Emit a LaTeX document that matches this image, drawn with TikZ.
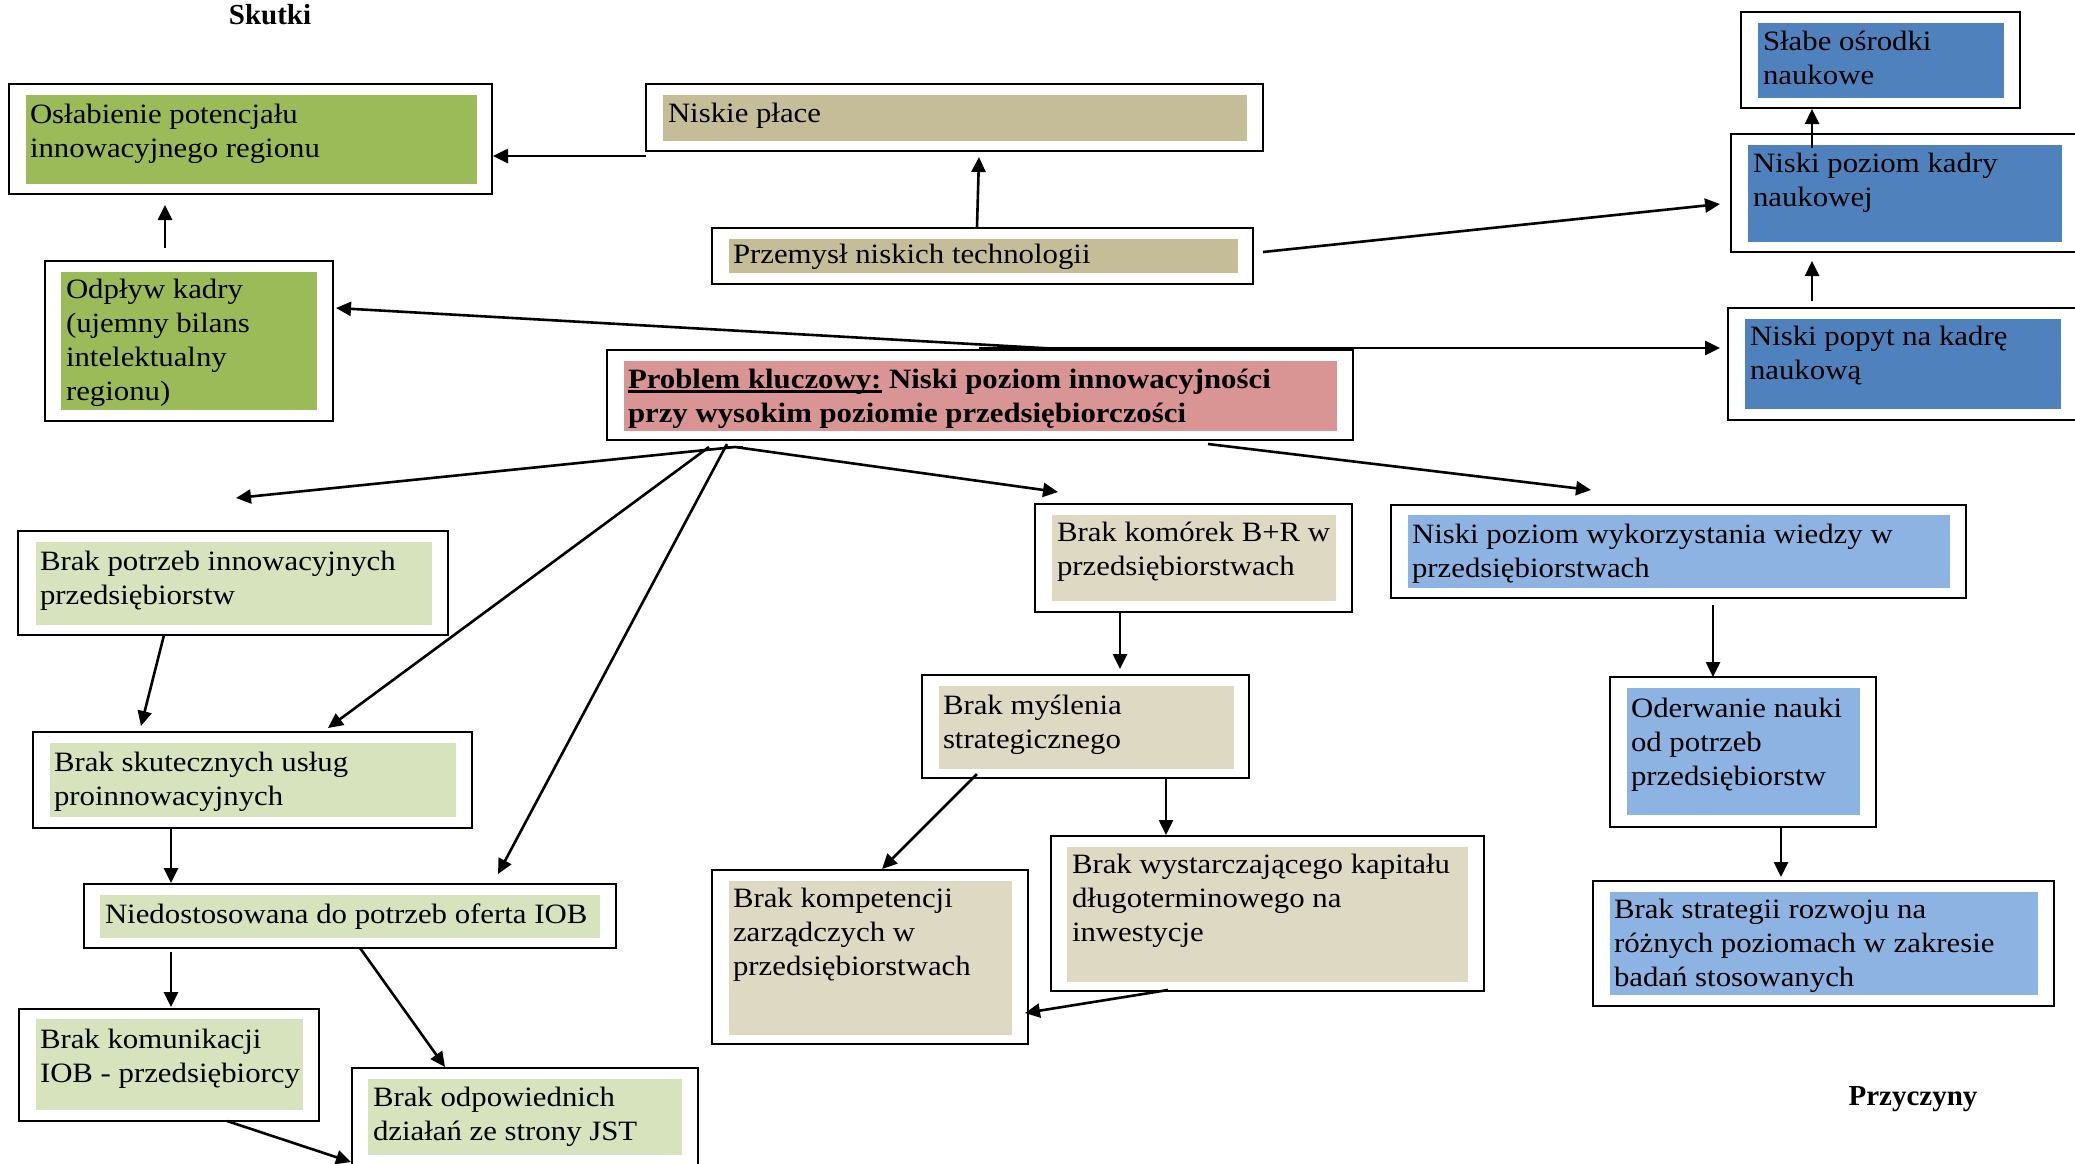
\documentclass[tikz,border=0pt]{standalone}
\usepackage{fontspec}
\setmainfont{Liberation Serif}[FakeStretch=1.1]
\newfontfamily\ttlfont{Liberation Serif}
\usetikzlibrary{arrows.meta,calc,fit}
\definecolor{cgreen}{HTML}{9BBB59}
\definecolor{ctan}{HTML}{C4BD97}
\definecolor{cblue}{HTML}{4F81BD}
\definecolor{cpink}{HTML}{D99594}
\definecolor{clgreen}{HTML}{D6E3BC}
\definecolor{cltan}{HTML}{DDD9C3}
\definecolor{clblue}{HTML}{8DB3E2}
\newcommand{\thickul}[1]{\setbox0\hbox{#1}\rlap{\rule[-4.5bp]{\wd0}{2.4bp}}\box0\relax}
\newcommand{\mybody}{\fontsize{28bp}{34bp}\selectfont}
\newcommand{\mytitle}{\ttlfont\bfseries\fontsize{29bp}{34bp}\selectfont}
\tikzset{
  obox/.style={draw=black, line width=2.2bp, inner sep=0pt, outer sep=0pt, rectangle},
  ibox/.style={inner sep=0pt, outer sep=0pt, rectangle},
  txt/.style={anchor=north west, inner sep=0pt, outer sep=0pt, align=left, font=\mybody},
  ttl/.style={anchor=base, inner sep=0pt, font=\mytitle},
  arr/.style={-{Triangle[length=15bp,width=14bp]}, line width=2.6bp},
  lin/.style={line width=2.6bp}
}
\newcommand{\mkbox}[6]{%
  \node[obox, fit={#2}] (#1) {};
  \node[ibox, fill=#4, fit={#3}] (#1-in) {};
  \node[txt] (#1-t) at ($#5+(0,-23.8)$) {\strut #6};
}
\begin{document}
\begin{tikzpicture}[x=1bp, y=-1bp]
\useasboundingbox (0,0) rectangle (2075,1163);
\clip (0,0) rectangle (2075,1163);
\fill[white] (0,0) rectangle (2075,1163);

% titles
\node[ttl] (skutki) at (270,24) {Skutki};
\node[ttl] (przyczyny) at (1913,1105) {Przyczyny};

% boxes
\mkbox{osl}{(9,84) (492,194)}{(26,95) (477,184)}{cgreen}{(30,123)}{Osłabienie potencjału\\innowacyjnego regionu}
\mkbox{odp}{(45,261) (333,421)}{(61,272) (317,410)}{cgreen}{(66,298)}{Odpływ kadry\\(ujemny bilans\\intelektualny\\regionu)}
\mkbox{np}{(646,84) (1263,151)}{(663,95) (1247,141)}{ctan}{(668,122)}{Niskie płace}
\mkbox{prz}{(712,228) (1253,284)}{(729,239) (1238,273)}{ctan}{(733,263)}{Przemysł niskich technologii}
\mkbox{slabe}{(1741,12) (2020,108)}{(1758,23) (2004,98)}{cblue}{(1763,50)}{Słabe ośrodki\\naukowe}
\mkbox{kadry}{(1731,134) (2095,252)}{(1748,145) (2062,242)}{cblue}{(1753,172)}{Niski poziom kadry\\naukowej}
\mkbox{popyt}{(1728,308) (2095,420)}{(1745,319) (2061,409)}{cblue}{(1750,345)}{Niski popyt na kadrę\\naukową}
\mkbox{prob}{(607,350) (1353,440)}{(624,361) (1337,431)}{cpink}{(628,388)}{\textbf{\thickul{Problem kluczowy:} Niski poziom innowacyjności}\\\textbf{przy wysokim poziomie przedsiębiorczości}}
\mkbox{bpi}{(18,531) (448,635)}{(36,542) (432,625)}{clgreen}{(40,570)}{Brak potrzeb innowacyjnych\\przedsiębiorstw}
\mkbox{bsk}{(33,732) (472,828)}{(50,743) (456,817)}{clgreen}{(54,771)}{Brak skutecznych usług\\proinnowacyjnych}
\mkbox{nied}{(84,884) (616,948)}{(100,895) (600,938)}{clgreen}{(105,923)}{Niedostosowana do potrzeb oferta IOB}
\mkbox{bkom}{(19,1009) (319,1121)}{(36,1019) (303,1110)}{clgreen}{(40,1048)}{Brak komunikacji\\IOB - przedsiębiorcy}
\mkbox{bodp}{(352,1068) (698,1185)}{(368,1079) (682,1155)}{clgreen}{(373,1106)}{Brak odpowiednich\\działań ze strony JST}
\mkbox{bbr}{(1035,504) (1352,612)}{(1052,515) (1336,601)}{cltan}{(1057,541)}{Brak komórek B+R w\\przedsiębiorstwach}
\mkbox{bms}{(922,675) (1249,778)}{(939,686) (1234,769)}{cltan}{(943,714)}{Brak myślenia\\strategicznego}
\mkbox{bkz}{(712,870) (1028,1044)}{(729,881) (1012,1035)}{cltan}{(733,907)}{Brak kompetencji\\zarządczych w\\przedsiębiorstwach}
\mkbox{bwk}{(1051,836) (1484,991)}{(1067,847) (1468,982)}{cltan}{(1072,873)}{Brak wystarczającego kapitału\\długoterminowego na\\inwestycje}
\mkbox{npw}{(1391,505) (1966,598)}{(1408,515) (1950,588)}{clblue}{(1412,543)}{Niski poziom wykorzystania wiedzy w\\przedsiębiorstwach}
\mkbox{oder}{(1610,677) (1876,827)}{(1627,688) (1860,815)}{clblue}{(1631,717)}{Oderwanie nauki\\od potrzeb\\przedsiębiorstw}
\mkbox{bstr}{(1593,881) (2054,1006)}{(1610,892) (2038,995)}{clblue}{(1614,918)}{Brak strategii rozwoju na\\różnych poziomach w zakresie\\badań stosowanych}

% connectors
\draw[arr] ($(np.south west)+(0,5)$) -- ($(osl.south east)+(1,-38)$);
\draw[arr] ($(odp.north west)+(120,-13)$) -- ($(osl.south west)+(156,11)$);
\draw[arr] ($(prz.north west)+(265,-1)$) -- ($(np.south west)+(333,6)$);
\draw[arr] ($(prz.north east)+(10,24)$) -- ($(kadry.south west)+(-11,-48)$);
\draw[arr] ($(popyt.north west)+(84,-7)$) -- ($(kadry.south west)+(81,9)$);
\draw[arr] ($(kadry.north west)+(81,14)$) -- ($(slabe.south west)+(71,1)$);
\draw[arr] ($(prob.north west)+(372,-2)$) -- ($(popyt.north west)+(-8,40)$);
\draw[arr] ($(prob.north west)+(453,-1)$) -- ($(odp.north east)+(3,47)$);
\draw[lin] ($(prob.south west)+(120,7)$) -- ($(prob.south west)+(136,7)$);
\draw[arr] ($(prob.south west)+(128,7)$) -- ($(bpi.north west)+(218,-33)$);
\draw[arr] ($(prob.south west)+(102,7)$) -- ($(bsk.north west)+(295,-4)$);
\draw[arr] ($(prob.south west)+(120,4)$) -- ($(nied.north west)+(414,-10)$);
\draw[arr] ($(prob.south west)+(128,7)$) -- ($(bbr.north west)+(23,-12)$);
\draw[arr] ($(prob.south east)+(-145,4)$) -- ($(npw.north west)+(200,-15)$);
\draw[arr] ($(bpi.south west)+(146,0)$) -- ($(bsk.north west)+(108,-6)$);
\draw[arr] ($(bsk.south west)+(138,0)$) -- ($(nied.north west)+(87,-1)$);
\draw[arr] ($(nied.south west)+(87,4)$) -- ($(bkom.north west)+(152,-2)$);
\draw[arr] ($(nied.south west)+(276,0)$) -- ($(bodp.north west)+(93,-1)$);
\draw[arr] ($(bkom.south west)+(208,0)$) -- ($(bodp.north west)+(-1,94)$);
\draw[arr] ($(bbr.south west)+(85,0)$) -- ($(bms.north west)+(198,-6)$);
\draw[arr] ($(bms.south west)+(55,-4)$) -- ($(bkz.north west)+(170,-1)$);
\draw[arr] ($(bms.south west)+(244,0)$) -- ($(bwk.north west)+(115,-1)$);
\draw[arr] ($(bwk.south west)+(117,-1)$) -- ($(bkz.north east)+(-3,143)$);
\draw[arr] ($(npw.south west)+(322,7)$) -- ($(oder.north west)+(103,0)$);
\draw[arr] ($(oder.south west)+(171,0)$) -- ($(bstr.north west)+(188,-4)$);
\end{tikzpicture}
\end{document}
